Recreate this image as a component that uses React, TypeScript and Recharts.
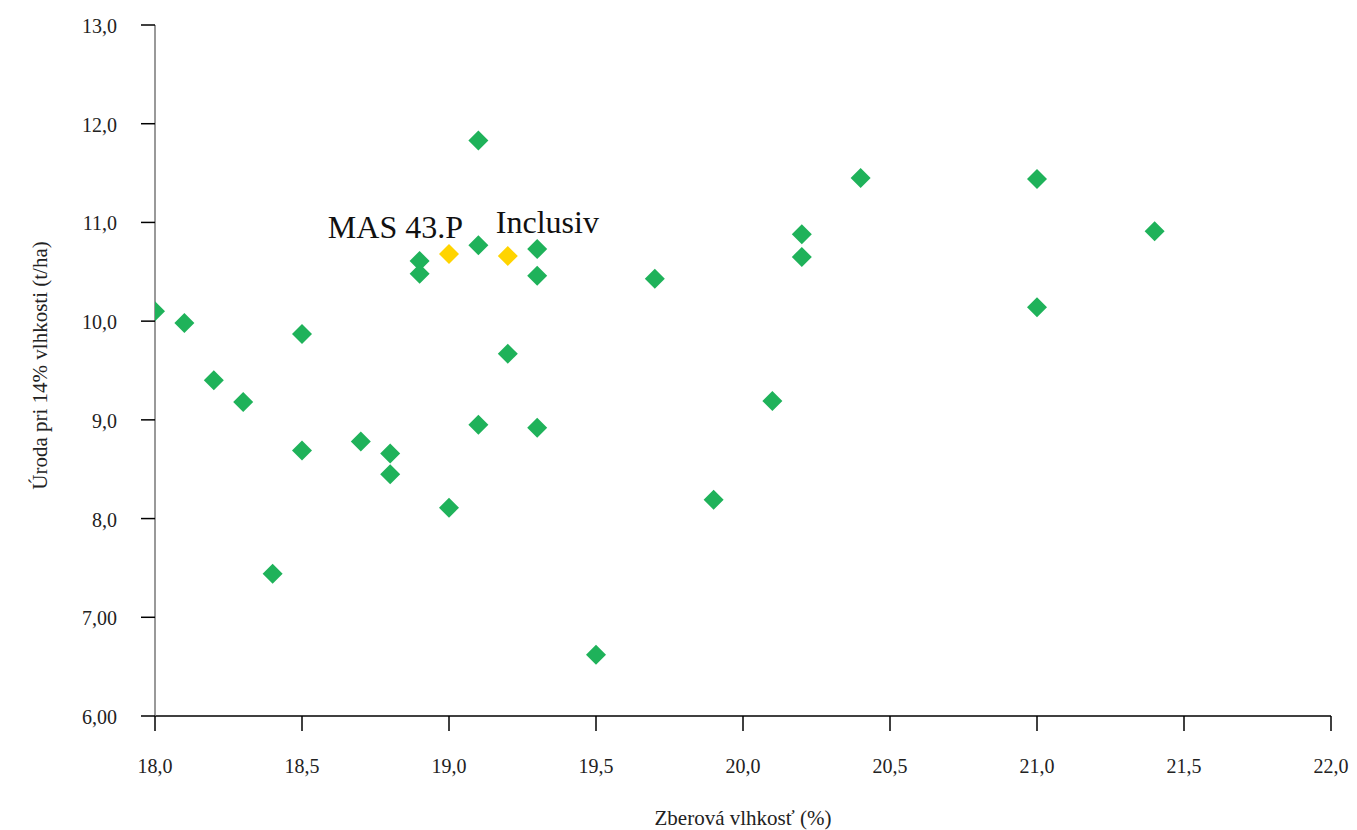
import React from 'react';
import { Label, LabelList, Scatter, ScatterChart, XAxis, YAxis } from 'recharts';

// zberová vlhkosť (%) a úroda (t/ha) pre hybridy
const moisture = [
  18.0, 18.1, 18.2, 18.3, 18.4, 18.5, 18.5, 18.7, 18.8, 18.8, 18.9, 18.9, 19.0, 19.1, 19.1,
  19.1, 19.2, 19.3, 19.3, 19.3, 19.5, 19.7, 19.9, 20.1, 20.2, 20.2, 20.4, 21.0, 21.0, 21.4,
];
const yieldValues = [
  10.1, 9.98, 9.4, 9.18, 7.44, 9.87, 8.69, 8.78, 8.66, 8.45, 10.61, 10.48, 8.11, 11.83, 10.77,
  8.95, 9.67, 10.73, 10.46, 8.92, 6.62, 10.43, 8.19, 9.19, 10.88, 10.65, 11.45, 11.44, 10.14, 10.91,
];

// zvýraznené hybridy
const highlightNames = ['MAS 43.P', 'Inclusiv'];
const highlightMoisture = [19.0, 19.2];
const highlightYield = [10.68, 10.66];

const xTicks = [18, 18.5, 19, 19.5, 20, 20.5, 21, 21.5, 22];
const xTickLabels = ['18,0', '18,5', '19,0', '19,5', '20,0', '20,5', '21,0', '21,5', '22,0'];
const yTicks = [6, 7, 8, 9, 10, 11, 12, 13];
const yTickLabels = ['6,00', '7,00', '8,0', '9,0', '10,0', '11,0', '12,0', '13,0'];

const others = moisture.map((x, i) => ({ x, y: yieldValues[i] }));
const highlighted = highlightMoisture.map((x, i) => ({ x, y: highlightYield[i], name: highlightNames[i] }));

const txt = { fontFamily: 'Liberation Serif, serif', fill: '#222' };

const Diamond = (color: string) => (props: any) => {
  const { cx, cy } = props;
  const r = 10;
  return (
    <polygon
      points={`${cx},${cy - r} ${cx + r},${cy} ${cx},${cy + r} ${cx - r},${cy}`}
      fill={color}
    />
  );
};

const XTick = (props: any) => {
  const { x, y, payload } = props;
  return (
    <text x={x} y={y + 40} textAnchor="middle" style={{ ...txt, fontSize: 20 }}>
      {xTickLabels[xTicks.indexOf(payload.value)]}
    </text>
  );
};

const YTick = (props: any) => {
  const { x, y, payload } = props;
  return (
    <text x={x - 22} y={y + 8} textAnchor="end" style={{ ...txt, fontSize: 20 }}>
      {yTickLabels[yTicks.indexOf(payload.value)]}
    </text>
  );
};

const XTitle = (props: any) => {
  const { viewBox } = props;
  return (
    <text x={viewBox.x + viewBox.width / 2} y={825} textAnchor="middle" style={{ ...txt, fontSize: 21 }}>
      Zberová vlhkosť (%)
    </text>
  );
};

const YTitle = (props: any) => {
  const { viewBox } = props;
  const cy = viewBox.y + viewBox.height / 2;
  return (
    <text
      x={47}
      y={cy - 5}
      transform={`rotate(-90, 47, ${cy - 5})`}
      textAnchor="middle"
      style={{ ...txt, fontSize: 21 }}
    >
      Úroda pri 14% vlhkosti (t/ha)
    </text>
  );
};

const NameLabel = (props: any) => {
  const { x, y, width, height, value, index } = props;
  const cx = x + (width || 0) / 2;
  const cy = y + (height || 0) / 2;
  // prvý popis vľavo od bodu, druhý vpravo
  const first = index === 0;
  return (
    <text
      x={first ? cx + 14 : cx - 12}
      y={first ? cy - 16 : cy - 23}
      textAnchor={first ? 'end' : 'start'}
      style={{ ...txt, fill: '#111', fontSize: 32 }}
    >
      {value}
    </text>
  );
};

export default function App() {
  return (
    <div style={{ position: 'absolute', left: 0, top: 0, background: '#fff', fontFamily: 'Liberation Serif, serif' }}>
      <ScatterChart width={1357} height={830} margin={{ top: 25, right: 26, bottom: 0, left: 0 }}>
        <XAxis
          type="number"
          dataKey="x"
          domain={[18, 22]}
          ticks={xTicks}
          height={114}
          tickSize={15}
          axisLine={{ stroke: '#000', strokeWidth: 1.5 }}
          tickLine={{ stroke: '#000', strokeWidth: 1.5 }}
          tick={<XTick />}
          allowDataOverflow
        >
          <Label content={<XTitle />} />
        </XAxis>
        <YAxis
          type="number"
          dataKey="y"
          domain={[6, 13]}
          ticks={yTicks}
          width={155}
          tickSize={14}
          axisLine={{ stroke: '#777', strokeWidth: 1.5 }}
          tickLine={{ stroke: '#000', strokeWidth: 1.5 }}
          tick={<YTick />}
          allowDataOverflow
        >
          <Label content={<YTitle />} />
        </YAxis>
        <Scatter data={others} fill="#1fb25a" shape={Diamond('#1fb25a')} isAnimationActive={false} />
        <Scatter data={highlighted} fill="#ffd400" shape={Diamond('#ffd400')} isAnimationActive={false}>
          <LabelList dataKey="name" content={NameLabel} />
        </Scatter>
      </ScatterChart>
    </div>
  );
}
